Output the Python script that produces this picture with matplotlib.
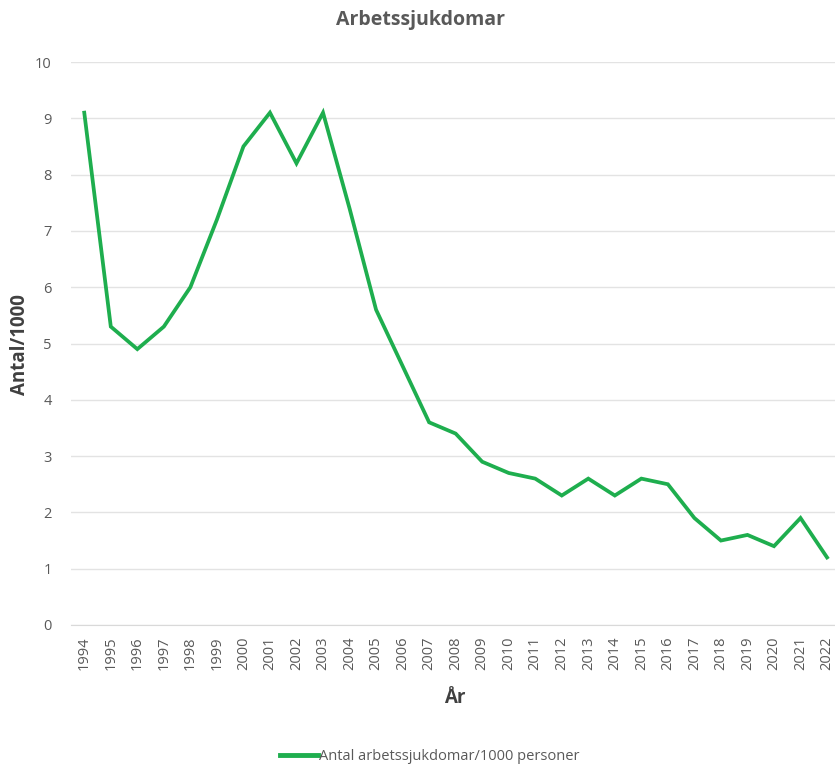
import matplotlib
matplotlib.use("Agg")
import matplotlib.pyplot as plt
from matplotlib import font_manager

years = [str(y) for y in range(1994, 2023)]
values = [9.1, 5.3, 4.9, 5.3, 6.0, 7.2, 8.5, 9.1, 8.2, 9.1, 7.4, 5.6, 4.6, 3.6,
          3.4, 2.9, 2.7, 2.6, 2.3, 2.6, 2.3, 2.6, 2.5, 1.9, 1.5, 1.6, 1.4, 1.9, 1.2]
yticks = list(range(0, 11))

names = {f.name for f in font_manager.fontManager.ttflist}
fam = "Liberation Sans Narrow" if "Liberation Sans Narrow" in names else "Open Sans"
plt.rcParams['font.family'] = [fam, 'DejaVu Sans']

W, H = 835, 767
fig = plt.figure(figsize=(W/100, H/100), dpi=100)
ax = fig.add_axes([71/W, 1 - 625/H, (835-71)/W, (625-62)/H])

x = list(range(len(years)))
ax.plot(x, values, color='#1EAE4E', lw=2.7, solid_joinstyle='miter',
        label='Antal arbetssjukdomar/1000 personer')

ax.set_xlim(-0.5, 28.3)
ax.set_ylim(0, 10)
ax.set_yticks(yticks)
ax.set_yticklabels([str(t) for t in yticks])
ax.set_xticks(x)
ax.set_xticklabels(years, rotation=90)
ax.grid(axis='y', color='#E3E3E3', lw=1.0)
ax.set_axisbelow(True)
for s in ['top', 'right', 'left']:
    ax.spines[s].set_visible(False)
ax.spines['bottom'].set_color('#D9D9D9')
ax.tick_params(axis='both', length=0, colors='#595959', labelsize=10.5)
ax.tick_params(axis='y', pad=14)
ax.tick_params(axis='x', pad=8)

fig.text(420/W, 1 - 20/H, 'Arbetssjukdomar', ha='center', va='center',
         fontsize=14, color='#595959', fontweight='bold')
fig.text(20/W, 1 - 345/H, 'Antal/1000', ha='center', va='center', rotation=90,
         fontsize=13.5, color='#404040', fontweight='bold')
fig.text(455/W, 1 - 698/H, 'År', ha='center', va='center',
         fontsize=13.5, color='#404040', fontweight='bold')

leg = fig.legend(loc='center', bbox_to_anchor=(430/W, 1 - 757/H), frameon=False,
                 fontsize=10.5, handlelength=2.6, handletextpad=0.1, labelcolor='#595959')
for l in leg.get_lines():
    l.set_linewidth(3.5)

fig.savefig('out.png', dpi=100, facecolor='white')
